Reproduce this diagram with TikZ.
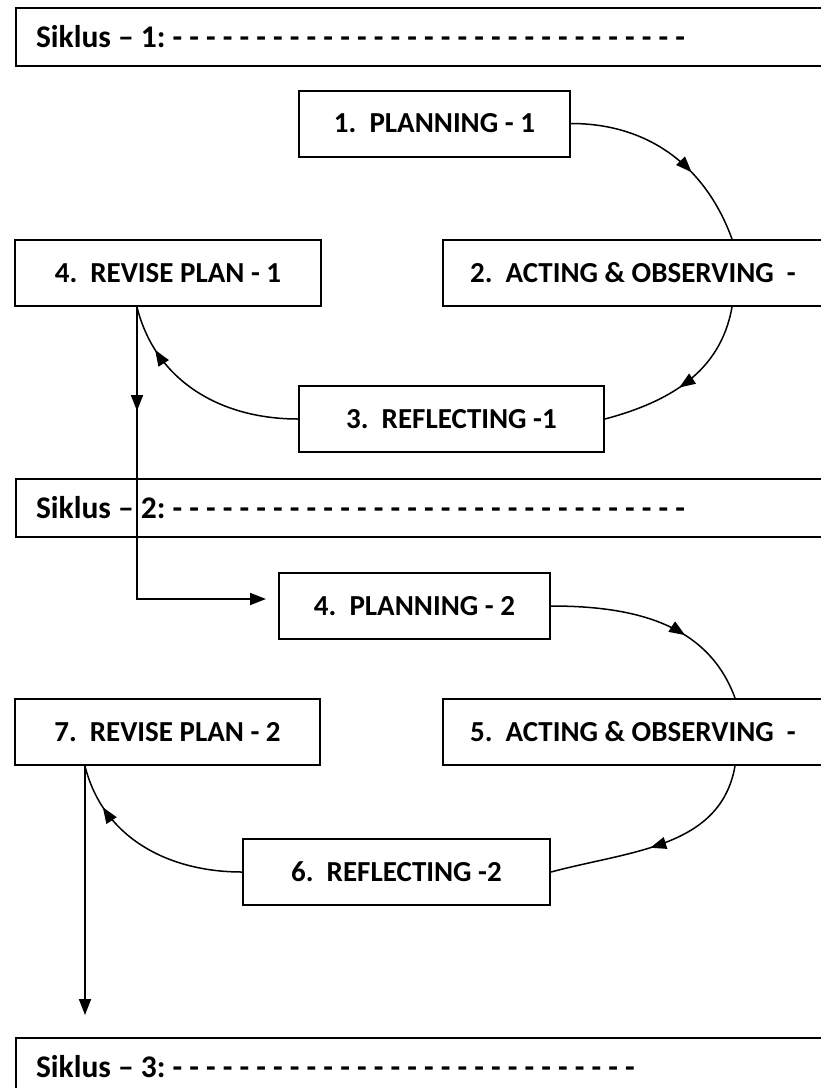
\documentclass[tikz,border=0pt]{standalone}
\usepackage{fontspec}
\setmainfont{Carlito}
\usetikzlibrary{arrows.meta,decorations.markings,positioning}

\begin{document}
\begin{tikzpicture}[x=1pt,y=-1pt,>={Triangle[length=16pt,width=12pt]},
  tight/.style={execute at begin node={\frenchspacing\spaceskip=0.226em\relax}},
  stage/.style={draw,line width=2pt,inner sep=0pt,minimum height=66pt,tight,
    font=\bfseries\fontsize{29}{34}\selectfont},
  siklus/.style={draw,line width=2pt,anchor=north west,text width=780pt,
    align=left,inner xsep=20pt,inner ysep=0pt,minimum height=58pt,tight,
    font=\bfseries\fontsize{31.5}{36}\selectfont},
  flow/.style={line width=1.5pt},
  loop/.style={line width=1.8pt},
  midarrow/.style={postaction={decorate},
    decoration={markings,mark=at position #1 with {\arrow{>}}}}]
\useasboundingbox (0,0) rectangle (821,1088);
\clip (0,0) rectangle (821,1088);

%cycle 1
\node[siklus] (siklus1) at (15,7) {Siklus -- 1: - - - - - - - - - - - - - - - - - - - - - - - - - - - - - - -};
\node[stage,minimum width=271pt] (plan1) at (434.5,123.5) {1.\ \ PLANNING - 1};
\node[stage,minimum width=380pt] (act1) at (633,273) {2.\ \ ACTING \& OBSERVING\ \ -};
\node[stage,minimum width=305pt] (refl1) at (451.5,419) {3.\ \ REFLECTING -1};
\node[stage,minimum width=306pt] (revise1) at (168,273) {4.\ \ REVISE PLAN - 1};
\coordinate (in1) at ([xshift=99pt]act1.north);
\coordinate (out1) at ([xshift=99pt]act1.south);
\coordinate (back1) at ([xshift=-31pt]revise1.south);

\draw[flow,midarrow=0.63] (plan1.east) to[out=0,in=110] (in1);
\draw[flow,midarrow=0.55] (out1) to[out=-100,in=15] (refl1.east);
\draw[flow,midarrow=0.78] (refl1.west) to[out=180,in=-76] (back1);

%cycle 2
\node[siklus] (siklus2) at (15,478) {Siklus -- 2: - - - - - - - - - - - - - - - - - - - - - - - - - - - - - - -};
\node[stage,minimum width=271pt] (plan2) at (414.5,606) {4.\ \ PLANNING - 2};
\node[stage,minimum width=380pt] (act2) at (633,732) {5.\ \ ACTING \& OBSERVING\ \ -};
\node[stage,minimum width=307pt] (refl2) at (396.5,872) {6.\ \ REFLECTING -2};
\node[stage,minimum width=305pt] (revise2) at (167.5,732) {7.\ \ REVISE PLAN - 2};
\coordinate (in2) at ([xshift=102pt]act2.north);
\coordinate (out2) at ([xshift=102pt]act2.south);
\coordinate (back2) at ([xshift=-82.5pt]revise2.south);

%link to next cycle
\draw[loop,->,shorten >=12pt,midarrow=104pt] (back1) |- ([yshift=7pt]plan2.west);

\draw[flow,midarrow=0.63] (plan2.east) to[out=0,in=110] (in2);
\draw[flow,midarrow=0.55] (out2) to[out=-100,in=15] (refl2.east);
\draw[flow,midarrow=0.78] (refl2.west) to[out=180,in=-76] (back2);

%cycle 3
\node[siklus] (siklus3) at (15,1037) {Siklus -- 3: - - - - - - - - - - - - - - - - - - - - - - - - - - - -};
\draw[loop,->,shorten >=22pt] (back2) -- (back2 |- siklus3.north);
\end{tikzpicture}
\end{document}
